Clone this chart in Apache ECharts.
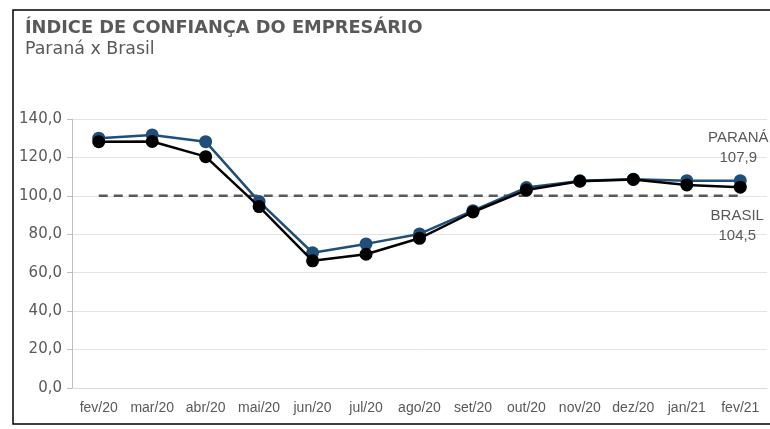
<!DOCTYPE html>
<html>
<head>
<meta charset="utf-8">
<script src="https://cdn.jsdelivr.net/npm/echarts@6/dist/echarts.min.js"></script>
<style>html,body{margin:0;padding:0;background:#fff;}#c{width:770px;height:429px;}</style>
</head>
<body>
<div id="c"></div>
<script>
var categories = ['fev/20','mar/20','abr/20','mai/20','jun/20','jul/20','ago/20','set/20','out/20','nov/20','dez/20','jan/21','fev/21'];
var parana = [130.0, 131.7, 128.2, 97.0, 70.4, 75.0, 80.2, 92.3, 104.3, 107.8, 108.7, 107.9, 107.9];
var brasil = [128.2, 128.3, 120.4, 94.4, 66.2, 69.6, 77.9, 91.6, 103.0, 107.6, 108.5, 105.7, 104.5];
var reference = [100,100,100,100,100,100,100,100,100,100,100,100,100];
var yTicks = [0, 20, 40, 60, 80, 100, 120, 140];
var titleText = 'ÍNDICE DE CONFIANÇA DO EMPRESÁRIO';
var subtitleText = 'Paraná x Brasil';

function fmt(v){ return v.toFixed(1).replace('.', ','); }

var chart = echarts.init(document.getElementById('c'), null, {renderer:'canvas'});
var lastIdx = categories.length - 1;

function lastLabel(arr, name, pos, off){
  return arr.map(function(v, i){
    if (i !== lastIdx) return v;
    return {value: v, label: {show: true, position: pos, offset: off,
      formatter: name + '\n' + fmt(v), color: '#595959', fontSize: 15,
      lineHeight: 20, align: 'center', fontFamily: 'Liberation Sans, Arial, sans-serif'}};
  });
}

chart.setOption({
  animation: false,
  graphic: [
    {type: 'rect', shape: {x: 13, y: 10, width: 800, height: 414},
     style: {fill: 'none', stroke: '#000', lineWidth: 1.5}, silent: true},
    {type: 'text', left: 25, top: 19,
     style: {text: titleText, fill: '#595959', font: 'bold 17.8px "DejaVu Sans", sans-serif'}},
    {type: 'text', left: 25, top: 41,
     style: {text: subtitleText, fill: '#595959', font: '17.4px "DejaVu Sans", sans-serif'}}
  ],
  grid: {left: 72, right: 3, top: 119, bottom: 41},
  xAxis: {
    type: 'category', data: categories, boundaryGap: true,
    axisLine: {lineStyle: {color: '#d9d9d9', width: 1}},
    axisTick: {show: false},
    axisLabel: {color: '#595959', fontSize: 14, margin: 13, interval: 0, fontFamily: 'Liberation Sans, Arial, sans-serif'}
  },
  yAxis: {
    type: 'value', min: 0, max: 140, interval: 20,
    axisLine: {show: true, lineStyle: {color: '#bfbfbf'}},
    axisTick: {show: true, length: 5, lineStyle: {color: '#bfbfbf'}},
    splitLine: {lineStyle: {color: '#e3e3e3'}},
    axisLabel: {color: '#595959', fontSize: 15, margin: 10, fontFamily: 'DejaVu Sans, sans-serif',
      formatter: function(v){ return yTicks.indexOf(v) >= 0 ? fmt(v) : ''; }}
  },
  series: [
    {
      name: 'Referência', type: 'line', data: reference, symbol: 'none',
      lineStyle: {color: '#595959', width: 2.5, type: [9, 6]}, z: 1
    },
    {
      name: 'Paraná', type: 'line', data: lastLabel(parana, 'PARANÁ', 'top', [-2, -1]),
      symbol: 'circle', symbolSize: 13,
      itemStyle: {color: '#1f4e79'}, lineStyle: {color: '#1f4e79', width: 2.5}, z: 3
    },
    {
      name: 'Brasil', type: 'line', data: lastLabel(brasil, 'BRASIL', 'bottom', [-3, 7]),
      symbol: 'circle', symbolSize: 13,
      itemStyle: {color: '#000'}, lineStyle: {color: '#000', width: 2.5}, z: 4
    }
  ]
});
</script>
</body>
</html>
